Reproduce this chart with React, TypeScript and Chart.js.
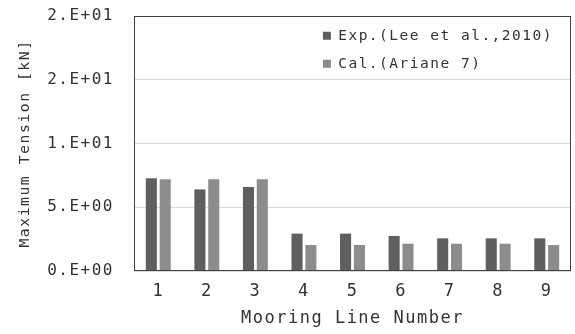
import React, { useEffect, useRef } from 'react';
import { Chart, registerables } from 'chart.js';

Chart.register(...registerables);

// Mooring line numbers and maximum tension per line [kN]
const lineNumbers = ['1', '2', '3', '4', '5', '6', '7', '8', '9'];
const expTension = [7.27, 6.4, 6.59, 2.93, 2.93, 2.75, 2.56, 2.56, 2.56];
const calTension = [7.19, 7.19, 7.19, 2.04, 2.04, 2.14, 2.14, 2.14, 2.04];

// Y axis ticks with spreadsheet-style scientific labels
const yTickValues = [0, 5, 10, 15, 20];
const yTickLabels = ['0.E+00', '5.E+00', '1.E+01', '2.E+01', '2.E+01'];

const seriesNames = ['Exp.(Lee et al.,2010)', 'Cal.(Ariane 7)'];
const seriesColors = ['#5f5f5f', '#8c8c8c'];

const FONT = '"DejaVu Sans Mono", "Liberation Mono", monospace';
const TEXT = '#333333';
const SPACING = '1.5px';

// Wide monospaced look: apply letter spacing to the canvas context
const letterSpacingPlugin = {
  id: 'letterSpacing',
  beforeLayout(chart: any) {
    chart.ctx.letterSpacing = SPACING;
  },
  beforeDraw(chart: any) {
    chart.ctx.letterSpacing = SPACING;
  },
};

// Put the in-plot legend at the top-right corner of the plot area
const legendCornerPlugin = {
  id: 'legendCorner',
  afterLayout(chart: any) {
    const lg = chart.legend;
    if (!lg) return;
    const w = lg.width;
    lg.left = chart.chartArea.right - w - 8;
    lg.right = lg.left + w;
    lg.top = chart.chartArea.top - 1;
  },
};

// Closed frame around the plot area
const framePlugin = {
  id: 'plotFrame',
  afterDraw(chart: any) {
    const { ctx, chartArea } = chart;
    const l = Math.round(chartArea.left) + 0.5;
    const t = Math.round(chartArea.top) + 0.5;
    const r = Math.round(chartArea.right) - 0.5;
    const b = Math.round(chartArea.bottom) - 0.5;
    ctx.save();
    ctx.strokeStyle = '#404040';
    ctx.lineWidth = 1;
    ctx.strokeRect(l, t, r - l, b - t);
    ctx.restore();
  },
};

export default function App() {
  const canvasRef = useRef<HTMLCanvasElement>(null);

  useEffect(() => {
    document.body.style.margin = '0';
    const canvas = canvasRef.current;
    if (!canvas) return;

    const chart = new Chart(canvas, {
      type: 'bar',
      data: {
        labels: lineNumbers,
        datasets: [
          {
            label: seriesNames[0],
            data: expTension,
            backgroundColor: seriesColors[0],
            borderWidth: 0,
            barPercentage: 0.8,
            categoryPercentage: 0.57,
          },
          {
            label: seriesNames[1],
            data: calTension,
            backgroundColor: seriesColors[1],
            borderWidth: 0,
            barPercentage: 0.8,
            categoryPercentage: 0.57,
          },
        ],
      },
      options: {
        responsive: false,
        animation: false,
        layout: { padding: { top: 16, right: 4, left: 0, bottom: 0 } },
        plugins: {
          tooltip: { enabled: false },
          legend: {
            position: 'chartArea' as any,
            align: 'start',
            labels: {
              boxWidth: 8,
              boxHeight: 8,
              padding: 13.5,
              color: TEXT,
              font: { family: FONT, size: 14.5 },
            },
          },
        },
        scales: {
          x: {
            grid: { display: false, drawTicks: false },
            border: { display: false },
            ticks: {
              color: TEXT,
              padding: 10,
              font: { family: FONT, size: 17 },
            },
            title: {
              display: true,
              text: 'Mooring Line Number',
              color: TEXT,
              font: { family: FONT, size: 17 },
              padding: { top: 0, bottom: 5 },
            },
            afterFit(scale: any) {
              scale.height = 63;
              scale.paddingLeft = 0;
              scale.paddingRight = 0;
            },
          },
          y: {
            min: 0,
            max: 20,
            grid: { color: '#d9d9d9', drawTicks: false, lineWidth: 1 },
            border: { display: false },
            afterBuildTicks(scale: any) {
              scale.ticks = yTickValues.map((v) => ({ value: v }));
            },
            ticks: {
              color: TEXT,
              padding: 20,
              font: { family: FONT, size: 16 },
              callback: (value: any) => {
                const i = yTickValues.indexOf(Number(value));
                return i >= 0 ? yTickLabels[i] : '';
              },
            },
            title: {
              display: true,
              text: 'Maximum Tension [kN]',
              color: TEXT,
              font: { family: FONT, size: 14.8 },
              padding: { top: 16, bottom: 0 },
            },
            afterFit(scale: any) {
              scale.width = 134;
              scale.paddingTop = 0;
              scale.paddingBottom = 0;
            },
          },
        },
      },
      plugins: [letterSpacingPlugin, legendCornerPlugin, framePlugin],
    });

    return () => chart.destroy();
  }, []);

  return (
    <div style={{ width: 575, height: 334, background: '#ffffff' }}>
      <canvas ref={canvasRef} width={575} height={334} />
    </div>
  );
}
